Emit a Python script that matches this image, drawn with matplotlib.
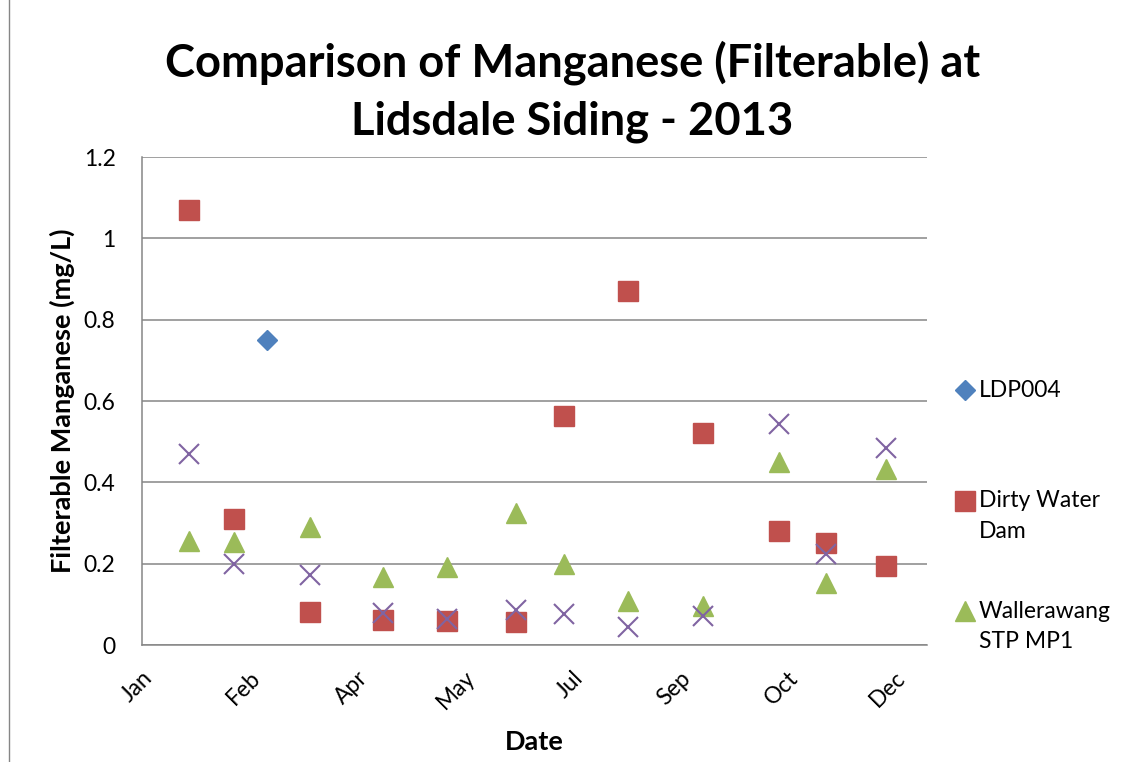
import matplotlib
matplotlib.use('Agg')
import matplotlib.pyplot as plt
import matplotlib.dates as mdates
from matplotlib.legend_handler import HandlerLine2D
import numpy as np
import datetime as dt

plt.rcParams['font.family'] = ['Lato', 'DejaVu Sans']

# sampling dates (2013) and filterable manganese (mg/L)
dates = ['2013-01-23', '2013-02-13', '2013-03-20', '2013-04-23', '2013-05-23',
         '2013-06-24', '2013-07-16', '2013-08-15', '2013-09-19', '2013-10-24',
         '2013-11-15', '2013-12-13']
ldp004_dates = ['2013-02-28']
ldp004 = [0.75]
dirty_water_dam = [1.07, 0.31, 0.081, 0.061, 0.059, 0.057, 0.563, 0.871, 0.521, 0.28, 0.251, 0.194]
wallerawang_stp = [0.255, 0.254, 0.291, 0.168, 0.191, 0.325, 0.198, 0.109, 0.096, 0.449, 0.152, 0.434]
fourth_series = [0.469, 0.199, 0.172, 0.079, 0.063, 0.085, 0.076, 0.045, 0.072, 0.543, 0.225, 0.484]

x = [dt.datetime.strptime(d, '%Y-%m-%d') for d in dates]
x_ldp = [dt.datetime.strptime(d, '%Y-%m-%d') for d in ldp004_dates]


class TopLineHandler(HandlerLine2D):
    # put the legend marker level with the first line of a 2-line label
    def create_artists(self, legend, orig_handle, xdescent, ydescent, width, height, fontsize, trans):
        artists = super().create_artists(legend, orig_handle, xdescent, ydescent, width, height, fontsize, trans)
        for a in artists:
            a.set_ydata(np.asarray(a.get_ydata()) + 11.5)
        return artists


fig = plt.figure(figsize=(11.45, 7.62), dpi=100)
ax = fig.add_axes([142/1145, 117/762, 785/1145, 488/762])

h1, = ax.plot(x_ldp, ldp004, ls='', marker='D', markersize=10.2, color='#4F81BD')
h2, = ax.plot(x, dirty_water_dam, ls='', marker='s', markersize=14.5, color='#C0504D')
h3, = ax.plot(x, wallerawang_stp, ls='', marker='^', markersize=14.5, color='#9BBB59')
ax.plot(x, fourth_series, ls='', marker='x', markersize=13.7, markeredgewidth=1.5, color='#8064A2')

start = dt.datetime(2013, 1, 1)
ax.set_xlim(start, dt.datetime(2014, 1, 1))
ax.set_xticks([start + dt.timedelta(days=50 * k) for k in range(8)])
ax.xaxis.set_major_formatter(mdates.DateFormatter('%b'))
ax.set_ylim(0, 1.2)
ax.set_yticks(np.arange(0, 1.21, 0.2))
ax.set_yticklabels(['0', '0.2', '0.4', '0.6', '0.8', '1', '1.2'])

ax.grid(axis='y', color='#868686', linewidth=1.1)
ax.set_axisbelow(True)
for s in ['top', 'right']:
    ax.spines[s].set_visible(False)
for s in ['left', 'bottom']:
    ax.spines[s].set_color('#868686')
    ax.spines[s].set_linewidth(1.1)
ax.tick_params(length=0, labelsize=16.5)
ax.tick_params(axis='y', pad=19)
ax.tick_params(axis='x', pad=16)
for lbl in ax.get_xticklabels():
    lbl.set_rotation(45)
    lbl.set_ha('right')
    lbl.set_rotation_mode('anchor')

ax.set_xlabel('Date', fontsize=19.5, fontweight='bold', va='center')
ax.xaxis.set_label_coords(0.5, -0.199)
ax.set_ylabel('Filterable Manganese (mg/L)', fontsize=19.5, fontweight='bold', va='center')
ax.yaxis.set_label_coords(-0.102, 0.5)
fig.text(0.5, 1 - 92/762, 'Comparison of Manganese (Filterable) at\nLidsdale Siding - 2013',
         fontsize=32.6, fontweight='bold', ha='center', va='center', linespacing=1.45)

leg = ax.legend([h1, h2, h3], ['LDP004\n', 'Dirty Water\nDam', 'Wallerawang\nSTP MP1'],
                handler_map={h1: TopLineHandler(), h2: TopLineHandler(), h3: TopLineHandler()},
                loc='upper left', bbox_to_anchor=(0.833, 1 - 380/762), bbox_transform=fig.transFigure,
                frameon=False, fontsize=16.5, labelspacing=2.56, handletextpad=0.1, handlelength=1.0,
                borderpad=0, borderaxespad=0)
for t in leg.get_texts():
    t.set_linespacing(1.57)

fig.add_artist(plt.Line2D([9/1145, 9/1145], [0, 1], color='#868686', linewidth=1.0))

fig.savefig('out.png', dpi=100)
plt.close(fig)
